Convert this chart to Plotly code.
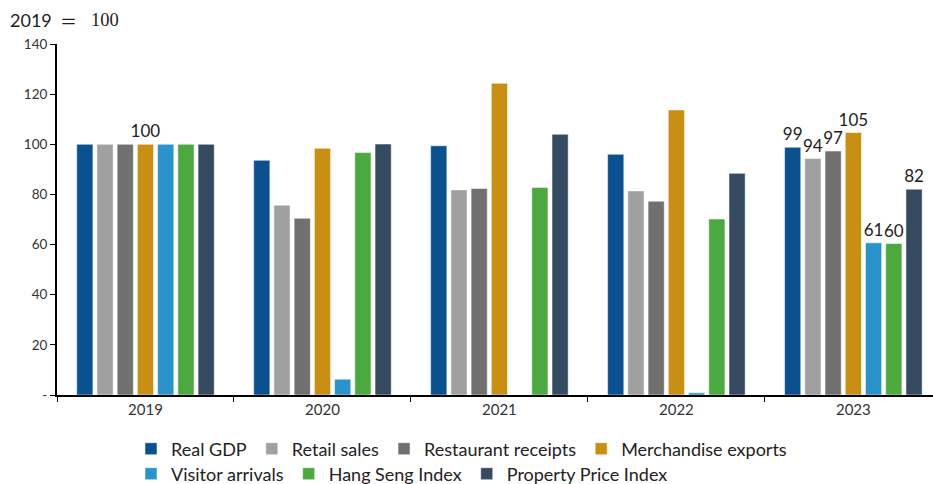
import plotly.graph_objects as go

years = ["2019", "2020", "2021", "2022", "2023"]
series_names = ["Real GDP", "Retail sales", "Restaurant receipts", "Merchandise exports",
                "Visitor arrivals", "Hang Seng Index", "Property Price Index"]
real_gdp = [100, 93.6, 99.4, 96.0, 98.8]
retail_sales = [100, 75.7, 81.8, 81.4, 94.3]
restaurant_receipts = [100, 70.5, 82.4, 77.3, 97.3]
merchandise_exports = [100, 98.4, 124.3, 113.7, 104.7]
visitor_arrivals = [100, 6.3, None, 0.9, 60.7]
hang_seng_index = [100, 96.7, 82.8, 70.2, 60.4]
property_price_index = [100, 100.1, 104.0, 88.4, 82.1]
labels_real_gdp = ["", "", "", "", "99"]
labels_retail_sales = ["", "", "", "", "94"]
labels_restaurant = ["", "", "", "", "97"]
labels_merch = ["100", "", "", "", "105"]
labels_visitor = ["", "", "", "", "61"]
labels_hsi = ["", "", "", "", "60"]
labels_ppi = ["", "", "", "", "82"]
y_tickvals = [0, 20, 40, 60, 80, 100, 120, 140]
y_ticktext = ["-", "20", "40", "60", "80", "100", "120", "140"]

values = [real_gdp, retail_sales, restaurant_receipts, merchandise_exports,
          visitor_arrivals, hang_seng_index, property_price_index]
labels = [labels_real_gdp, labels_retail_sales, labels_restaurant, labels_merch,
          labels_visitor, labels_hsi, labels_ppi]
colors = ["#09528F", "#A0A0A0", "#707070", "#C98F12", "#2B93CB", "#4BA940", "#354B60"]
legend_ids = ["legend", "legend", "legend", "legend", "legend2", "legend2", "legend2"]

FONT = "Lato, 'Open Sans', sans-serif"
W, H = 933, 484
ML, MR, MT, MB = 57, 0, 44, 89
PW, PH = W - ML - MR, H - MT - MB

fig = go.Figure()
for name, vals, lab, col, lg in zip(series_names, values, labels, colors, legend_ids):
    fig.add_trace(go.Bar(
        x=years, y=vals, name=name, text=lab, textposition="outside",
        constraintext="none",
        textfont=dict(size=17, color="#222222", family=FONT),
        marker=dict(color=col, line=dict(color="rgba(255,255,255,0.5)", width=1)),
        cliponaxis=False, legend=lg,
    ))

legend_common = dict(orientation="h", xanchor="left", yanchor="middle",
                     xref="container", yref="container",
                     font=dict(size=18, color="#222222", family=FONT),
                     itemwidth=30, bgcolor="rgba(0,0,0,0)", borderwidth=0)

fig.update_layout(
    width=W, height=H,
    margin=dict(l=ML, r=MR, t=MT, b=MB),
    paper_bgcolor="white", plot_bgcolor="white",
    barmode="group", bargap=0.2, bargroupgap=0.2,
    font=dict(family=FONT, color="#333333"),
    showlegend=True,
    legend=dict(x=131 / W, y=(H - 449) / H, **legend_common),
    legend2=dict(x=131 / W, y=(H - 474) / H, **legend_common),
    xaxis=dict(type="category", range=[-0.5, 4.45], tickson="boundaries",
               ticks="outside", ticklen=5, tickcolor="black",
               showline=True, linecolor="black", linewidth=2,
               tickfont=dict(size=15, color="#333333"), showgrid=False, automargin=False),
    yaxis=dict(range=[0, 140], tickvals=y_tickvals, ticktext=y_ticktext,
               ticks="outside", ticklen=5, tickcolor="black",
               showline=True, linecolor="black", linewidth=2,
               tickfont=dict(size=13.5, color="#333333"), showgrid=False, zeroline=False,
               automargin=False),
)

fig.add_annotation(
    xref="paper", yref="paper", x=-49 / PW, y=1 + 24 / PH, xanchor="left", yanchor="middle",
    text="2019", showarrow=False, font=dict(size=18, color="#222222", family=FONT),
)
fig.add_annotation(
    xref="paper", yref="paper", x=(68 - ML) / PW, y=1 + 24 / PH, xanchor="center", yanchor="middle",
    text="＝", showarrow=False,
    font=dict(size=17, color="#222222", family="'Noto Sans CJK SC', sans-serif"),
)
fig.add_annotation(
    xref="paper", yref="paper", x=(89 - ML) / PW, y=1 + 24 / PH, xanchor="left", yanchor="middle",
    text="100", showarrow=False,
    font=dict(size=18.5, color="#222222", family="'Liberation Serif', 'DejaVu Serif', serif"),
)

fig.write_html("out.html", config={"displayModeBar": False},
               post_script="document.body.style.margin='0';")
